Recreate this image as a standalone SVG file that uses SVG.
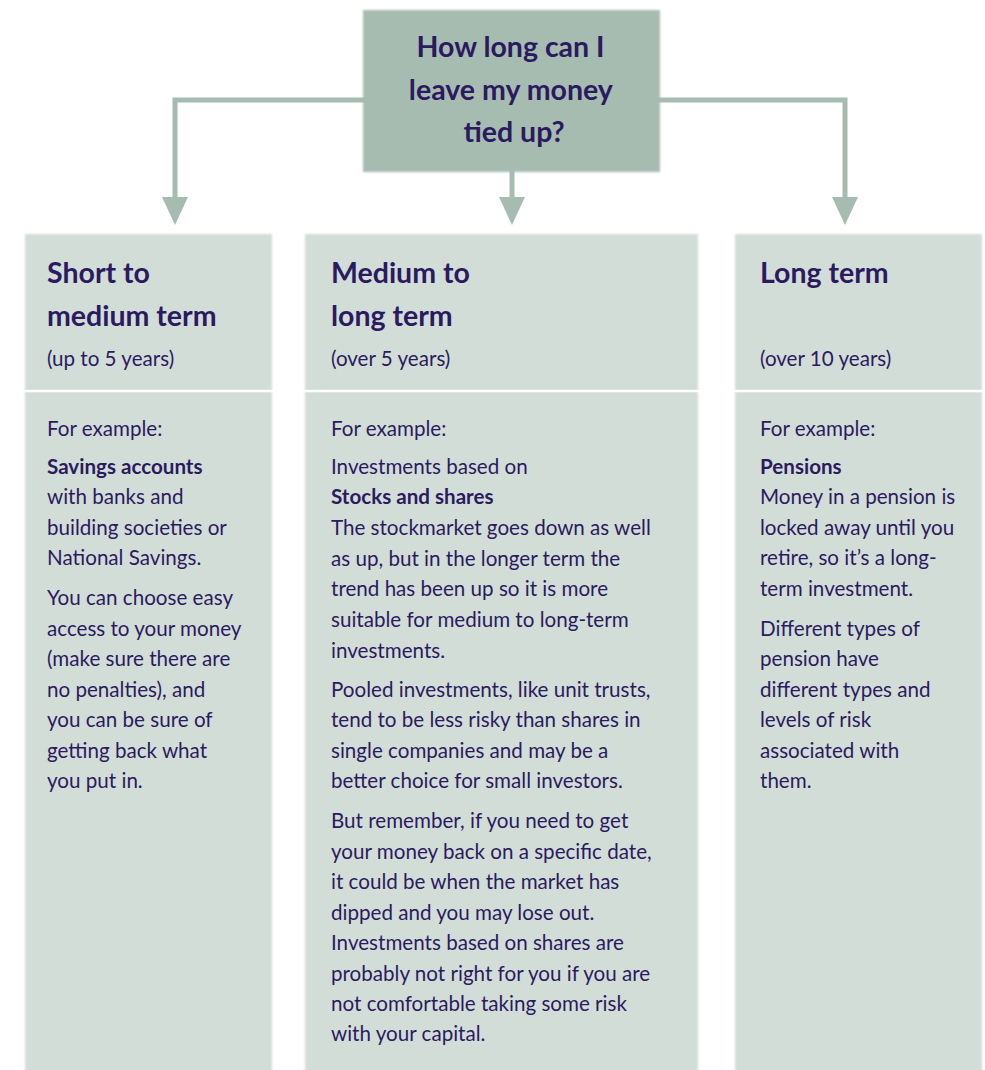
<svg xmlns="http://www.w3.org/2000/svg" width="985" height="1070" viewBox="0 0 985 1070">
  <style>
    .title { font-family: Lato, "Liberation Sans", sans-serif; font-weight: 700; font-size: 28.5px; fill: #2b1a5f; }
    .head { font-family: Lato, "Liberation Sans", sans-serif; font-weight: 700; font-size: 28.5px; fill: #2b1a5f; }
    .body { font-family: Lato, "Liberation Sans", sans-serif; font-size: 20.6px; fill: #2b1a5f; }
    .b { font-weight: 700; }
    .panel { fill: #d3ddd8; filter: url(#soft); }
    .top { fill: #a7bcb1; filter: url(#soft); }
    .sep { stroke: #ffffff; stroke-width: 2.5; }
    .conn { fill: none; stroke: #a7bcb1; stroke-width: 5; }
    .head-arrow { fill: #a7bcb1; }
  </style>
  <defs>
    <filter id="soft" x="-5%" y="-5%" width="110%" height="110%">
      <feGaussianBlur stdDeviation="1.3"/>
    </filter>
  </defs>

  <rect width="985" height="1070" fill="#ffffff"/>

  <!-- connectors -->
  <g id="connectors">
    <polyline class="conn" points="365,100 175,100 175,200"/>
    <polyline class="conn" points="658,100 845,100 845,200"/>
    <line class="conn" x1="512" y1="170" x2="512" y2="200"/>
    <path class="head-arrow" d="M162 197 L188 197 L175 225 Z"/>
    <path class="head-arrow" d="M499 197 L525 197 L512 225 Z"/>
    <path class="head-arrow" d="M832 197 L858 197 L845 225 Z"/>
  </g>

  <!-- question -->
  <g id="question">
    <rect class="top" x="363" y="10" width="297" height="162"/>
    <text class="title" text-anchor="middle">
      <tspan x="514" y="57">How long can I</tspan>
      <tspan x="514" y="100">leave my money</tspan>
      <tspan x="514" y="142">tied up?</tspan>
    </text>
  </g>

  <!-- short to medium term -->
  <g id="short-term">
    <rect class="panel" x="25" y="234" width="247" height="840"/>
    <line class="sep" x1="20" y1="391" x2="277" y2="391"/>
    <text class="head"><tspan x="47" y="283">Short to</tspan><tspan x="47" y="326">medium term</tspan></text>
    <text class="body" x="47" y="366">(up to 5 years)</text>
    <text class="body">
      <tspan x="47" y="436">For example:</tspan>
      <tspan x="47" y="474" class="b">Savings accounts</tspan>
      <tspan x="47" y="504">with banks and</tspan>
      <tspan x="47" y="535">building societies or</tspan>
      <tspan x="47" y="565">National Savings.</tspan>
      <tspan x="47" y="605">You can choose easy</tspan>
      <tspan x="47" y="636">access to your money</tspan>
      <tspan x="47" y="666">(make sure there are</tspan>
      <tspan x="47" y="697">no penalties), and</tspan>
      <tspan x="47" y="727">you can be sure of</tspan>
      <tspan x="47" y="758">getting back what</tspan>
      <tspan x="47" y="788">you put in.</tspan>
    </text>
  </g>

  <!-- medium to long term -->
  <g id="medium-term">
    <rect class="panel" x="305" y="234" width="393" height="840"/>
    <line class="sep" x1="300" y1="391" x2="703" y2="391"/>
    <text class="head"><tspan x="331" y="283">Medium to</tspan><tspan x="331" y="326">long term</tspan></text>
    <text class="body" x="331" y="366">(over 5 years)</text>
    <text class="body">
      <tspan x="331" y="436">For example:</tspan>
      <tspan x="331" y="474">Investments based on</tspan>
      <tspan x="331" y="504" class="b">Stocks and shares</tspan>
      <tspan x="331" y="535">The stockmarket goes down as well</tspan>
      <tspan x="331" y="566">as up, but in the longer term the</tspan>
      <tspan x="331" y="596">trend has been up so it is more</tspan>
      <tspan x="331" y="627">suitable for medium to long-term</tspan>
      <tspan x="331" y="658">investments.</tspan>
      <tspan x="331" y="697">Pooled investments, like unit trusts,</tspan>
      <tspan x="331" y="727">tend to be less risky than shares in</tspan>
      <tspan x="331" y="758">single companies and may be a</tspan>
      <tspan x="331" y="788">better choice for small investors.</tspan>
      <tspan x="331" y="828">But remember, if you need to get</tspan>
      <tspan x="331" y="859">your money back on a specific date,</tspan>
      <tspan x="331" y="889">it could be when the market has</tspan>
      <tspan x="331" y="920">dipped and you may lose out.</tspan>
      <tspan x="331" y="950">Investments based on shares are</tspan>
      <tspan x="331" y="981">probably not right for you if you are</tspan>
      <tspan x="331" y="1011">not comfortable taking some risk</tspan>
      <tspan x="331" y="1041">with your capital.</tspan>
    </text>
  </g>

  <!-- long term -->
  <g id="long-term">
    <rect class="panel" x="735" y="234" width="247" height="840"/>
    <line class="sep" x1="730" y1="391" x2="985" y2="391"/>
    <text class="head" x="760" y="283">Long term</text>
    <text class="body" x="760" y="366">(over 10 years)</text>
    <text class="body">
      <tspan x="760" y="436">For example:</tspan>
      <tspan x="760" y="474" class="b">Pensions</tspan>
      <tspan x="760" y="504">Money in a pension is</tspan>
      <tspan x="760" y="535">locked away until you</tspan>
      <tspan x="760" y="565">retire, so it’s a long-</tspan>
      <tspan x="760" y="596">term investment.</tspan>
      <tspan x="760" y="636">Different types of</tspan>
      <tspan x="760" y="666">pension have</tspan>
      <tspan x="760" y="697">different types and</tspan>
      <tspan x="760" y="727">levels of risk</tspan>
      <tspan x="760" y="758">associated with</tspan>
      <tspan x="760" y="788">them.</tspan>
    </text>
  </g>
</svg>
